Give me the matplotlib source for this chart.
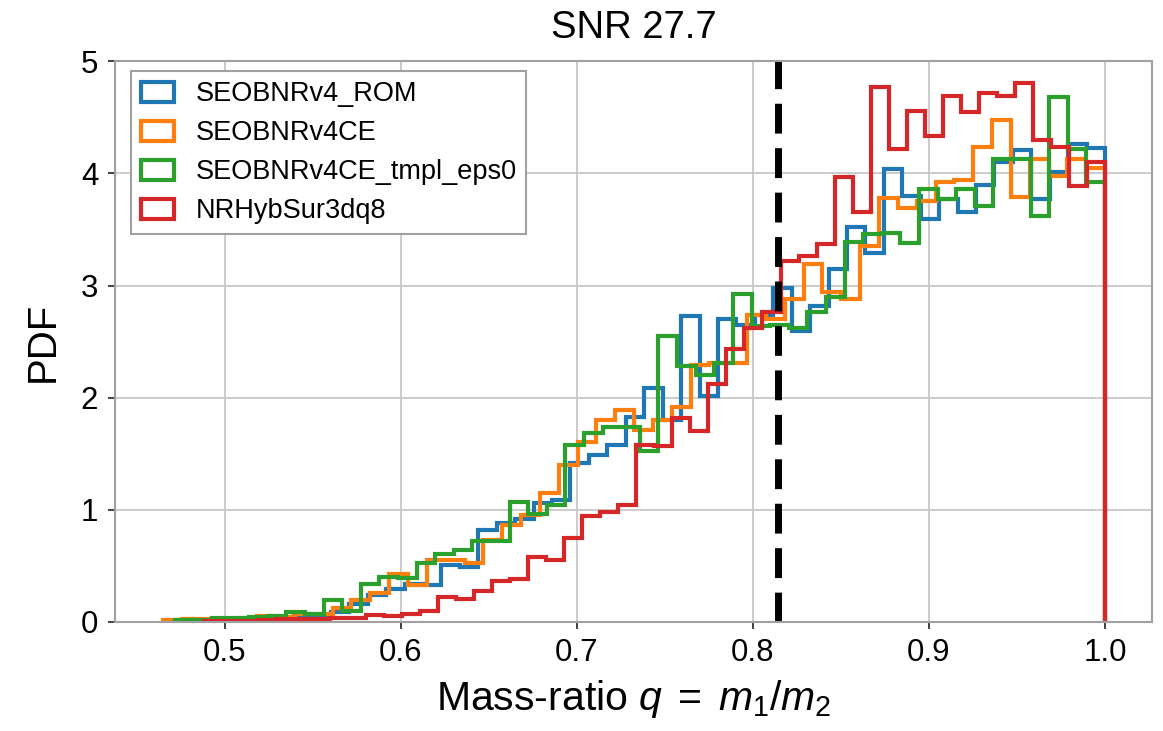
import numpy as np
import matplotlib
matplotlib.use("Agg")
import matplotlib.pyplot as plt

plt.rcParams['font.family'] = ['Liberation Sans', 'DejaVu Sans']
plt.rcParams['mathtext.fontset'] = 'custom'
plt.rcParams['mathtext.rm'] = 'Liberation Sans'
plt.rcParams['mathtext.it'] = 'Liberation Sans:italic'

# 各波形モデルの質量比ヒストグラム (50ビン, 下限〜1.0)
labels = ["SEOBNRv4_ROM", "SEOBNRv4CE", "SEOBNRv4CE_tmpl_eps0", "NRHybSur3dq8"]
colors = ["#1f77b4", "#ff7f0e", "#2ca02c", "#d62728"]
q_min = [0.4765, 0.465, 0.4716, 0.488]
q_max = 1.0
n_bins = 50

pdf_rom = [0.005, 0.01, 0.015, 0.02, 0.025, 0.04, 0.05, 0.06, 0.09, 0.16,
           0.24, 0.29, 0.34, 0.33, 0.51, 0.49, 0.82, 0.88, 0.92, 1.06,
           1.09, 1.42, 1.49, 1.58, 1.83, 2.09, 1.80, 2.73, 2.01, 2.70,
           2.65, 2.74, 2.98, 2.59, 2.82, 3.15, 3.52, 3.29, 4.04, 3.80,
           3.59, 3.77, 3.66, 3.90, 4.10, 4.21, 3.77, 4.01, 4.26, 4.23]
pdf_ce = [0.015, 0.02, 0.02, 0.025, 0.03, 0.055, 0.04, 0.07, 0.07, 0.12,
          0.19, 0.26, 0.43, 0.33, 0.55, 0.55, 0.52, 0.73, 0.86, 0.95,
          1.15, 1.40, 1.60, 1.80, 1.89, 1.71, 1.80, 1.92, 2.29, 2.31,
          2.31, 2.74, 2.70, 2.88, 3.19, 2.94, 2.88, 3.35, 3.78, 3.69,
          3.75, 3.92, 3.94, 4.24, 4.48, 3.79, 4.13, 3.98, 4.13, 4.05]
pdf_ce_eps0 = [0.015, 0.015, 0.03, 0.03, 0.04, 0.05, 0.083, 0.07, 0.19, 0.10,
               0.34, 0.40, 0.39, 0.52, 0.60, 0.64, 0.72, 0.72, 1.07, 0.96,
               1.04, 1.58, 1.68, 1.74, 1.74, 1.52, 2.55, 2.28, 2.20, 2.31,
               2.92, 2.64, 2.65, 2.62, 2.76, 2.90, 3.39, 3.46, 3.47, 3.38,
               3.86, 3.77, 3.86, 3.71, 4.13, 4.13, 3.62, 4.68, 4.22, 3.92]
pdf_nrsur = [0.01, 0.01, 0.01, 0.015, 0.02, 0.02, 0.02, 0.03, 0.03, 0.06,
             0.05, 0.07, 0.10, 0.22, 0.20, 0.27, 0.36, 0.38, 0.58, 0.55,
             0.75, 0.94, 0.98, 1.04, 1.58, 1.57, 1.82, 1.70, 2.12, 2.43,
             2.62, 2.76, 3.22, 3.26, 3.37, 3.97, 3.66, 4.77, 4.22, 4.56,
             4.33, 4.69, 4.55, 4.72, 4.69, 4.81, 4.30, 4.24, 3.89, 4.10]
pdfs = [pdf_rom, pdf_ce, pdf_ce_eps0, pdf_nrsur]

q_true = 0.814
snr = 27.7

fig = plt.figure(figsize=(11.63, 7.31), dpi=100)
ax = fig.add_axes([0.0989, 0.1495, 0.8914, 0.7665])

for lab, col, qlo, vals in zip(labels, colors, q_min, pdfs):
    edges = np.linspace(qlo, q_max, n_bins + 1)
    ax.hist(edges[:-1], bins=edges, weights=vals, histtype='step',
            color=col, lw=3, label=lab)

ax.axvline(q_true, color='k', lw=5, dashes=(4.3, 2.1))

ax.set_xlim(0.4377, 1.0265)
ax.set_ylim(0, 5)
ax.set_xticks([0.5, 0.6, 0.7, 0.8, 0.9, 1.0])
ax.set_yticks([0, 1, 2, 3, 4, 5])
ax.grid(True, color='#c8c8c8', lw=1.3)
ax.set_axisbelow(True)
for sp in ax.spines.values():
    sp.set_color('#a0a0a0')
    sp.set_linewidth(1.5)
ax.tick_params(labelsize=22.5, length=5, width=1.3, pad=7, color='#333333')

ax.set_xlabel(r"Mass-ratio $q\;=\;m_1/m_2$", fontsize=29.5, labelpad=7)
ax.set_ylabel("PDF", fontsize=29, labelpad=14)
ax.set_title("SNR %.1f" % snr, fontsize=27.5, pad=17)

leg = ax.legend(loc='upper left', bbox_to_anchor=(0.0154, 0.982), borderaxespad=0,
                fontsize=19.5, fancybox=False, framealpha=1, edgecolor='#a0a0a0',
                handlelength=1.22, handleheight=0.75, handletextpad=0.8,
                labelspacing=0.48, borderpad=0.36)
leg.get_frame().set_linewidth(1.5)

filename = "out.png"
plt.savefig(filename, dpi=100)
